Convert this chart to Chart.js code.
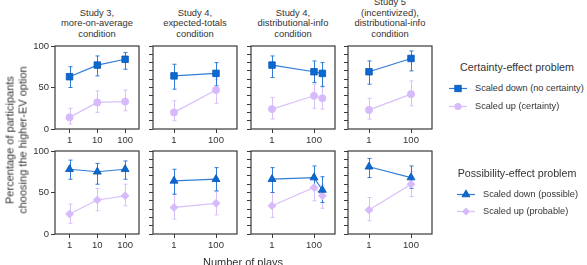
<!DOCTYPE html>
<html><head><meta charset="utf-8">
<script src="https://cdn.jsdelivr.net/npm/chart.js@4.4.1/dist/chart.umd.min.js"></script>
<style>
html,body{margin:0;padding:0;background:#fff}
body{width:587px;height:265px;overflow:hidden;position:relative;font-family:"Liberation Sans",Arial,Helvetica,sans-serif;color:#333}
canvas{position:absolute}
.ttl{position:absolute;width:130px;text-align:center;font-size:9.4px;line-height:10.4px;white-space:nowrap}
.abs{position:absolute;white-space:nowrap}
</style>
</head><body>
<script>
// ---------- DATA ----------
const panelTitles = [
  ["Study 3,", "more-on-average", "condition"],
  ["Study 4,", "expected-totals", "condition"],
  ["Study 4,", "distributional-info", "condition"],
  ["Study 5", "(incentivized),", "distributional-info", "condition"]
];
const plays = [[1, 10, 100], [1, 100], [1, 100, 250], [1, 100]];
const xTicks = [[1, 10, 100], [1, 100], [1, 100], [1, 100]];

// Certainty-effect problem
const certDownMean = [[63, 77, 84], [64, 67], [77, 69, 67], [69, 85]];
const certDownLo   = [[50, 64, 72], [48, 52], [62, 56, 51], [54, 70]];
const certDownHi   = [[75, 88, 92], [78, 80], [88, 82, 80], [82, 94]];
const certUpMean   = [[14, 32, 33], [20, 47], [24, 40, 37], [23, 42]];
const certUpLo     = [[6, 20, 22], [10, 31], [12, 25, 24], [12, 28]];
const certUpHi     = [[25, 46, 47], [34, 60], [38, 54, 52], [37, 58]];

// Possibility-effect problem
const possDownMean = [[78, 75, 78], [64, 66], [66, 68, 53], [81, 68]];
const possDownLo   = [[66, 60, 66], [48, 52], [50, 55, 38], [68, 55]];
const possDownHi   = [[89, 85, 88], [78, 80], [80, 82, 69], [91, 82]];
const possUpMean   = [[24, 41, 46], [32, 37], [34, 56, 46], [29, 60]];
const possUpLo     = [[13, 28, 34], [18, 23], [20, 40, 31], [16, 45]];
const possUpHi     = [[36, 55, 60], [48, 51], [50, 71, 59], [44, 75]];

const yTickLabels = [0, 50, 100];

// ---------- STYLE ----------
const FONT = '"Liberation Sans", Arial, Helvetica, sans-serif';
const BLUE_FILL = '#0b69d2', BLUE_EDGE = '#0656b4', BLUE_LINE = '#2f7dd6';
const PURP_FILL = '#d7bafb', PURP_LINE = '#d8c0f8';
const AX = '#3a3a3a';
const PL = [55, 153, 251, 348], PT = [46, 151], PW = 84, PH = 83;
const padL = 32, padT = 8, padR = 8, padB = 24;

const errPlugin = {
  id: 'errbars',
  beforeDatasetsDraw(chart) {
    const ctx = chart.ctx, xs = chart.scales.x, ys = chart.scales.y;
    chart.data.datasets.slice().reverse().forEach(ds => {
      ctx.save();
      ctx.strokeStyle = ds.errColor;
      ctx.lineWidth = 1;
      ds.data.forEach((p, i) => {
        const px = Math.round(xs.getPixelForValue(p.x)) + 0.5;
        const y1 = ys.getPixelForValue(ds.lo[i]);
        const y2 = ys.getPixelForValue(ds.hi[i]);
        ctx.beginPath();
        ctx.moveTo(px, y1); ctx.lineTo(px, y2);
        ctx.moveTo(px - 2, y1); ctx.lineTo(px + 2, y1);
        ctx.moveTo(px - 2, y2); ctx.lineTo(px + 2, y2);
        ctx.stroke();
      });
      ctx.restore();
    });
  }
};
const framePlugin = {
  id: 'frame',
  afterDraw(chart) {
    const a = chart.chartArea, ctx = chart.ctx;
    ctx.save();
    ctx.strokeStyle = AX;
    ctx.lineWidth = 1.2;
    ctx.strokeRect(a.left, a.top, a.right - a.left, a.bottom - a.top);
    ctx.restore();
  }
};

function makePanel(row, col) {
  const cv = document.createElement('canvas');
  cv.width = PW + padL + padR;
  cv.height = PH + padT + padB;
  cv.style.left = (PL[col] - padL) + 'px';
  cv.style.top = (PT[row] - padT) + 'px';
  document.body.appendChild(cv);
  const xs = plays[col];
  const series = row === 0 ? [
    {mean: certDownMean[col], lo: certDownLo[col], hi: certDownHi[col], blue: true, style: 'rect', r: 4.6},
    {mean: certUpMean[col], lo: certUpLo[col], hi: certUpHi[col], blue: false, style: 'circle', r: 3.6}
  ] : [
    {mean: possDownMean[col], lo: possDownLo[col], hi: possDownHi[col], blue: true, style: 'triangle', r: 4.6},
    {mean: possUpMean[col], lo: possUpLo[col], hi: possUpHi[col], blue: false, style: 'rectRot', r: 4}
  ];
  new Chart(cv, {
    type: 'line',
    data: {
      datasets: series.map(s => ({
        data: xs.map((x, i) => ({x: x, y: s.mean[i]})),
        lo: s.lo, hi: s.hi,
        errColor: s.blue ? BLUE_LINE : PURP_LINE,
        borderColor: s.blue ? BLUE_LINE : PURP_LINE,
        borderWidth: 1.2,
        pointStyle: s.style,
        pointRadius: s.r,
        pointBackgroundColor: s.blue ? BLUE_FILL : PURP_FILL,
        pointBorderColor: s.blue ? BLUE_EDGE : PURP_FILL,
        pointBorderWidth: 0.8,
        tension: 0,
        fill: false
      }))
    },
    options: {
      responsive: false, animation: false, devicePixelRatio: 1,
      layout: {padding: {top: padT, right: padR, left: 0, bottom: 0}, autoPadding: false},
      plugins: {legend: {display: false}, tooltip: {enabled: false}},
      scales: {
        x: {
          type: 'logarithmic',
          min: col === 0 ? 0.316 : 0.1,
          max: col === 0 ? 316 : 1000,
          afterBuildTicks: sc => { sc.ticks = xTicks[col].map(v => ({value: v})); },
          ticks: {callback: v => String(v), font: {size: 9.5, family: FONT}, color: '#333', padding: 2, maxRotation: 0, autoSkip: false},
          grid: {display: true, drawOnChartArea: false, drawTicks: true, tickLength: 4, color: AX, lineWidth: 1},
          border: {display: false},
          afterFit: sc => { sc.height = padB; }
        },
        y: {
          min: 0, max: 100,
          afterBuildTicks: sc => {
            if (col === 0) sc.ticks = yTickLabels.map(v => ({value: v}));
          },
          ticks: {stepSize: 10, display: col === 0, callback: v => String(v), font: {size: 9.5, family: FONT}, color: '#333', padding: 2},
          grid: {display: true, drawOnChartArea: false, drawTicks: true, tickLength: 4, color: AX, lineWidth: 1},
          border: {display: false},
          afterFit: sc => { sc.width = padL; }
        }
      }
    },
    plugins: [errPlugin, framePlugin]
  });
}

// titles
panelTitles.forEach((lines, col) => {
  const d = document.createElement('div');
  d.className = 'ttl';
  d.innerHTML = lines.join('<br>');
  const cx = PL[col] + PW / 2;
  d.style.left = (cx - 65) + 'px';
  const bottomLineCenter = 33.8;
  const top = bottomLineCenter + 5.2 - lines.length * 10.4;
  d.style.top = top + 'px';
  document.body.appendChild(d);
});

for (let r = 0; r < 2; r++) for (let c = 0; c < 4; c++) makePanel(r, c);

// axis titles
const yt = document.createElement('div');
yt.className = 'abs';
yt.style.cssText += 'left:16px;top:140px;font-size:11px;line-height:12.5px;text-align:center;transform:translate(-50%,-50%) rotate(-90deg);';
yt.innerHTML = 'Percentage of participants<br>choosing the higher-EV option';
document.body.appendChild(yt);

const xt = document.createElement('div');
xt.className = 'abs';
xt.style.cssText += 'left:243px;top:262px;font-size:11px;line-height:13px;transform:translate(-50%,-50%);';
xt.textContent = 'Number of plays';
document.body.appendChild(xt);

// legends
function sym(shape, fill, edge, line) {
  let m = '';
  if (shape === 'rect') m = `<rect x="5.8" y="3.3" width="6.4" height="6.4" fill="${fill}" stroke="${edge}" stroke-width="0.8"/>`;
  if (shape === 'circle') m = `<circle cx="9" cy="6.5" r="3.6" fill="${fill}"/>`;
  if (shape === 'triangle') m = `<polygon points="9,1.9 13,8.8 5,8.8" fill="${fill}" stroke="${edge}" stroke-width="0.8"/>`;
  if (shape === 'rectRot') m = `<polygon points="9,2.5 13,6.5 9,10.5 5,6.5" fill="${fill}"/>`;
  return `<svg width="18" height="13" style="position:absolute;left:0;top:0"><line x1="0" y1="6.5" x2="18" y2="6.5" stroke="${line}" stroke-width="1.2"/>${m}</svg>`;
}
function legend(title, cy, entries, symLeft, textLeft) {
  const t = document.createElement('div');
  t.className = 'abs';
  t.style.cssText += `left:517px;top:${cy}px;font-size:10.7px;line-height:13px;transform:translate(-50%,-50%);`;
  t.textContent = title;
  document.body.appendChild(t);
  entries.forEach(e => {
    const s = document.createElement('div');
    s.className = 'abs';
    s.style.cssText += `left:${symLeft}px;top:${e.y - 6.5}px;width:18px;height:13px;`;
    s.innerHTML = sym(e.shape, e.fill, e.edge, e.line);
    document.body.appendChild(s);
    const tx = document.createElement('div');
    tx.className = 'abs';
    tx.style.cssText += `left:${textLeft}px;top:${e.y - 6}px;font-size:9.2px;line-height:12px;`;
    tx.textContent = e.label;
    document.body.appendChild(tx);
  });
}
legend('Certainty-effect problem', 66.7, [
  {y: 88.3, shape: 'rect', fill: BLUE_FILL, edge: BLUE_EDGE, line: BLUE_LINE, label: 'Scaled down (no certainty)'},
  {y: 106, shape: 'circle', fill: PURP_FILL, edge: PURP_FILL, line: PURP_LINE, label: 'Scaled up (certainty)'}
], 449, 475);
legend('Possibility-effect problem', 172.7, [
  {y: 194.3, shape: 'triangle', fill: BLUE_FILL, edge: BLUE_EDGE, line: BLUE_LINE, label: 'Scaled down (possible)'},
  {y: 211, shape: 'rectRot', fill: PURP_FILL, edge: PURP_FILL, line: PURP_LINE, label: 'Scaled up (probable)'}
], 457, 483);
</script>
</body></html>
